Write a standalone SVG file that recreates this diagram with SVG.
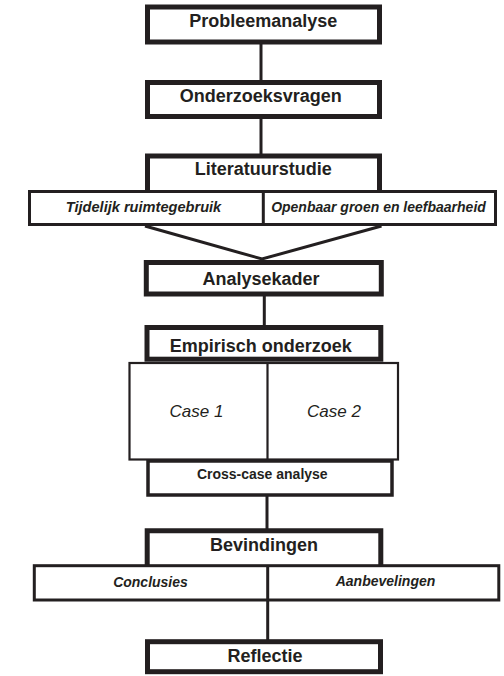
<svg xmlns="http://www.w3.org/2000/svg" width="504" height="676" viewBox="0 0 504 676">
<style>
.main{fill:#fff;stroke:#231f20;stroke-width:5}
.sub{fill:#fff;stroke:#231f20;stroke-width:3}
.thin{fill:none;stroke:#231f20;stroke-width:3}
.case{fill:#fff;stroke:#231f20;stroke-width:2.2}
.conn{fill:none;stroke:#231f20;stroke-width:3}
text{font-family:"Liberation Sans",Arial,Helvetica,sans-serif;fill:#231f20;text-anchor:middle}
.t{font-size:18px;font-weight:bold}
.s{font-size:14px;font-weight:bold;font-style:italic}
.c{font-size:17px;font-style:italic}
.x{font-size:14px;font-weight:bold}
</style>
<rect width="504" height="676" fill="#fff"/>
<g id="connectors">
<line class="conn" x1="261" y1="44" x2="261" y2="81"/>
<line class="conn" x1="261" y1="118" x2="261" y2="155"/>
<polyline class="conn" points="145,226 262,259 381.5,226"/>
<line class="conn" x1="264.3" y1="295" x2="264.3" y2="327"/>
<line class="conn" x1="267" y1="496" x2="267" y2="530"/>
<line class="conn" x1="267.7" y1="600" x2="267.7" y2="641"/>
</g>
<g id="probleemanalyse">
<rect class="main" x="147.5" y="7" width="232" height="35"/>
<text class="t" x="263.3" y="27.3">Probleemanalyse</text>
</g>
<g id="onderzoeksvragen">
<rect class="main" x="147.5" y="82.5" width="232" height="34"/>
<text class="t" x="260.8" y="101.7">Onderzoeksvragen</text>
</g>
<g id="literatuurstudie">
<path class="main" d="M147.5,191.5 V156 H379.5 V191.5"/>
<text class="t" x="263.3" y="175">Literatuurstudie</text>
</g>
<g id="literatuur-sub">
<rect class="sub" x="29.5" y="191.5" width="466" height="33"/>
<line class="thin" x1="263.3" y1="191.5" x2="263.3" y2="224.5"/>
<text class="s" x="143.5" y="211.7" style="font-size:14.6px">Tijdelijk ruimtegebruik</text>
<text class="s" x="378.5" y="211.7">Openbaar groen en leefbaarheid</text>
</g>
<g id="analysekader">
<rect class="main" x="146.3" y="262.5" width="235" height="31.5"/>
<text class="t" x="261" y="285">Analysekader</text>
</g>
<g id="empirisch-onderzoek">
<rect class="main" x="147" y="327.5" width="233.8" height="31.7"/>
<text class="t" x="260.8" y="351.7">Empirisch onderzoek</text>
</g>
<g id="cases">
<rect class="case" x="129.5" y="363" width="268.5" height="96.5"/>
<line class="case" x1="267.5" y1="363" x2="267.5" y2="459.5"/>
<text class="c" x="196.5" y="417">Case 1</text>
<text class="c" x="334" y="417">Case 2</text>
</g>
<g id="cross-case">
<rect class="sub" x="148" y="461" width="244" height="34" style="stroke-width:3.5"/>
<text class="x" x="262.3" y="479.3">Cross-case analyse</text>
</g>
<g id="bevindingen">
<path class="main" d="M147.2,565.7 V530.8 H380.8 V565.7"/>
<text class="t" x="264" y="550.7">Bevindingen</text>
</g>
<g id="bevindingen-sub">
<rect class="sub" x="34.3" y="565.7" width="464.5" height="34.3"/>
<line class="thin" x1="267.7" y1="565.7" x2="267.7" y2="600"/>
<text class="s" x="150.5" y="586.5">Conclusies</text>
<text class="s" x="385.5" y="585.5">Aanbevelingen</text>
</g>
<g id="reflectie">
<rect class="main" x="147.5" y="641.7" width="233" height="30"/>
<text class="t" x="265" y="661.7">Reflectie</text>
</g>
</svg>
